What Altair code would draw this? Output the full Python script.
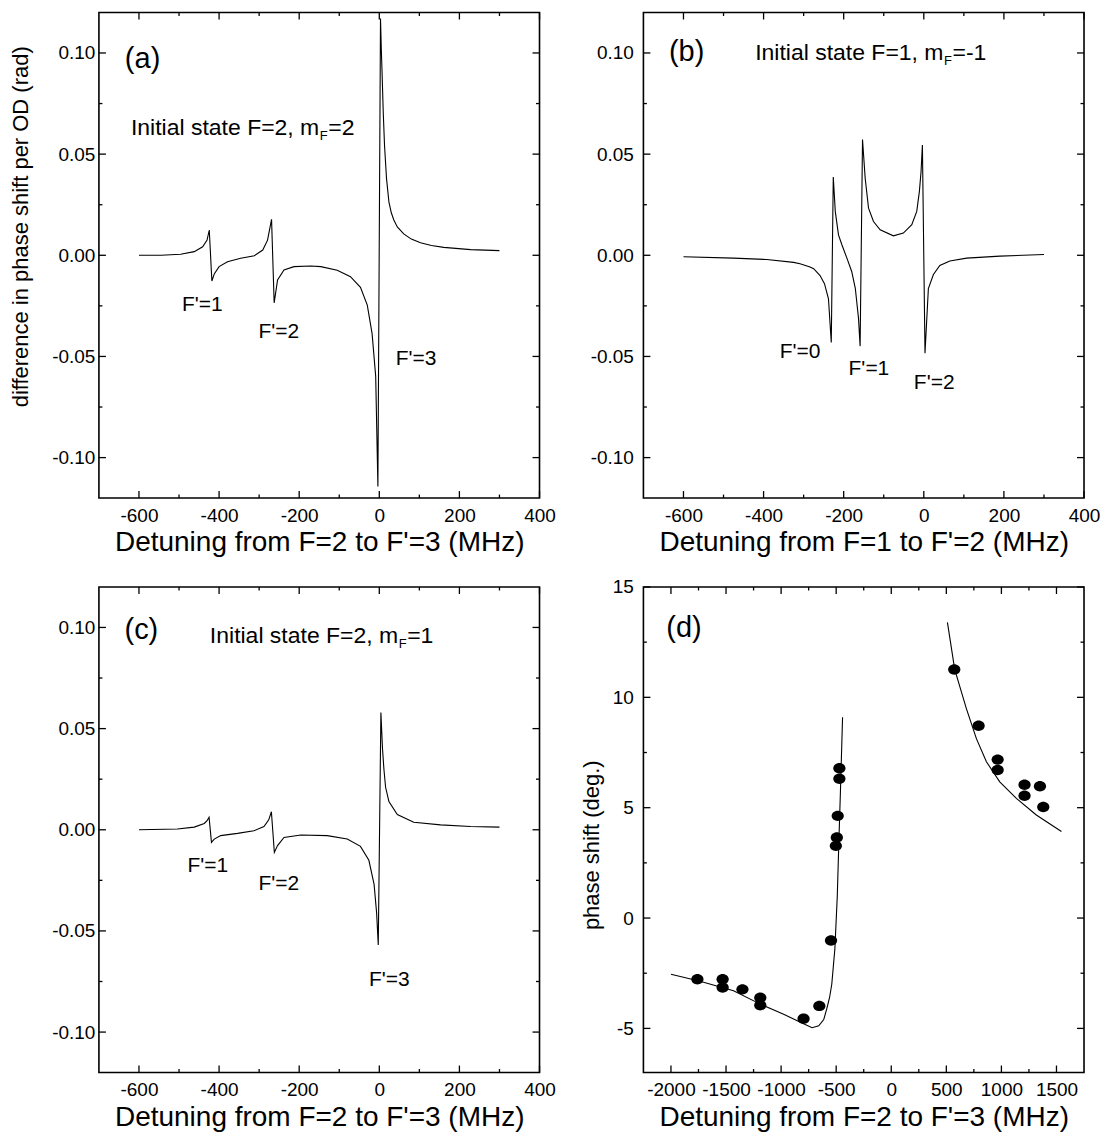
import altair as alt
import pandas as pd

FONT = "Liberation Sans"
W, H = 441, 486

# ---------------- data ----------------
# (a) initial state F=2, mF=2
a_x = [-600, -545, -496, -462, -441, -430, -424.5, -418, -412, -400,
       -379, -346, -312, -291, -279, -269, -262.5, -254, -238, -213,
       -171, -146, -105, -72, -47, -30, -18, -9, -3.5, 3,
       5, 7, 10, 13, 18, 24, 30, 36, 45, 61,
       80, 103, 130, 161, 228, 300]
a_y = [0.0, 0.0, 0.0005, 0.0018, 0.0042, 0.0075, 0.0125, -0.0127, -0.0092, -0.0056,
       -0.0032, -0.0015, -0.0002, 0.0026, 0.0075, 0.0178, -0.0235, -0.0122, -0.0073, -0.0056,
       -0.0053, -0.0056, -0.0074, -0.0106, -0.0158, -0.0246, -0.0387, -0.0598, -0.1143, 0.117,
       0.102, 0.0897, 0.070, 0.0545, 0.038, 0.0264, 0.021, 0.0176, 0.014, 0.0106,
       0.008, 0.0062, 0.0048, 0.0039, 0.0028, 0.0023]

# (b) initial state F=1, mF=-1
b_x = [-600, -475, -392, -325, -309, -284, -275, -259, -248, -238,
       -231, -226, -221, -213, -204.5, -192, -180, -171, -163, -159,
       -153, -146.4, -138, -125.6, -109, -76, -51, -30, -17.6, -11,
       -6.8, -3.5, 3, 11.4, 24, 40, 65, 107, 190, 300]
b_y = [-0.0007, -0.0014, -0.0021, -0.0035, -0.0042, -0.0058, -0.0066, -0.0100, -0.0140, -0.0215,
       -0.0431, 0.0387, 0.0217, 0.0101, 0.0052, -0.0014, -0.0080, -0.0163, -0.0312, -0.0449,
       0.0572, 0.0382, 0.0233, 0.0167, 0.0126, 0.0096, 0.0110, 0.0151, 0.0217, 0.0316,
       0.0415, 0.0545, -0.0484, -0.0165, -0.0095, -0.0050, -0.0028, -0.0014, -0.0004, 0.0004]

# (c) initial state F=2, mF=1
c_x = [-600, -504, -462, -437, -430, -425, -419, -412, -396, -354,
       -313, -288, -276, -269.4, -262, -254, -238, -196, -130, -80,
       -47, -26, -13, -6.7, -2.6, 4, 8, 11.5, 15.7, 24,
       45, 86, 153, 228, 300]
c_y = [0.0, 0.0004, 0.0013, 0.0031, 0.0045, 0.0062, -0.0062, -0.0046, -0.0029, -0.0018,
       -0.0005, 0.0016, 0.0049, 0.0089, -0.0112, -0.0078, -0.0038, -0.0026, -0.0029, -0.0046,
       -0.0082, -0.0151, -0.027, -0.041, -0.057, 0.058, 0.040, 0.030, 0.021, 0.014,
       0.0075, 0.0037, 0.0024, 0.0016, 0.0013]

# (d) measured phase shift and theory curve
d_left_x = [-2000, -1736, -1432, -1189, -977, -825, -719, -658, -613, -585,
            -560, -540, -512, -490, -476, -461, -442]
d_left_y = [-2.55, -2.86, -3.29, -3.9, -4.36, -4.72, -4.97, -4.88, -4.6, -4.1,
            -3.6, -3.0, -1.4, 1.0, 3.4, 5.8, 9.1]
d_right_x = [510, 576, 682, 773, 864, 985, 1136, 1317, 1545]
d_right_y = [13.4, 11.27, 9.49, 8.13, 7.08, 6.17, 5.42, 4.67, 3.92]
d_pts_x = [-1760, -1531, -1531, -1351, -1189, -1189, -796, -653, -547, -503,
           -494, -486, -471, -471, 572, 793, 966, 966, 1210, 1210, 1350, 1380]
d_pts_y = [-2.77, -2.77, -3.15, -3.23, -3.61, -3.95, -4.56, -3.98, -1.02, 3.27,
           3.65, 4.63, 6.31, 6.79, 11.26, 8.71, 7.18, 6.71, 6.04, 5.54, 5.97, 5.03]

# axis ticks / labels
abc_xlabels = [-600, -400, -200, 0, 200, 400]
abc_xminor = [-500, -300, -100, 100, 300]
abc_ylabels = [-0.10, -0.05, 0.0, 0.05, 0.10]
abc_yminor = [-0.075, -0.025, 0.025, 0.075]
d_xlabels = [-2000, -1500, -1000, -500, 0, 500, 1000, 1500]
d_xminor = [-1750, -1250, -750, -250, 250, 750, 1250]
d_ylabels = [-5, 0, 5, 10, 15]
d_yminor = [-2.5, 2.5, 7.5, 12.5]


def neg_expr(fmt):
    return ("datum.value < 0 ? '-' + format(-datum.value, '%s') : format(datum.value, '%s')"
            % (fmt, fmt))


def tick_layers(X, Y, xmaj, xmin, ymaj, ymin):
    out = []
    for vals, ln in ((xmaj, 7), (xmin, 3.5)):
        base = alt.Chart(pd.DataFrame({"x": vals})).mark_rule(color="black", strokeWidth=1.3)
        out.append(base.encode(x=X, y=alt.value(H), y2=alt.value(H - ln)))
        out.append(base.encode(x=X, y=alt.value(0), y2=alt.value(ln)))
    for vals, ln in ((ymaj, 7), (ymin, 3.5)):
        base = alt.Chart(pd.DataFrame({"y": vals})).mark_rule(color="black", strokeWidth=1.3)
        out.append(base.encode(y=Y, x=alt.value(0), x2=alt.value(ln)))
        out.append(base.encode(y=Y, x=alt.value(W), x2=alt.value(W - ln)))
    return out


def text_layer(X, Y, x, y, t, size, align="center", baseline="middle", dx=0, dy=0):
    return alt.Chart(pd.DataFrame({"x": x, "y": y, "t": t})).mark_text(
        font=FONT, fontSize=size, align=align, baseline=baseline, dx=dx, dy=dy, color="black"
    ).encode(x=X, y=Y, text="t:N")


def encodings(xdom, ydom, xlabels, ylabels, xfmt, yfmt, xtitle, xtitle_y, ylab_pad,
              ytitle=None, ytitle_x=0, ytitle_y=H / 2):
    xs = alt.Scale(domain=xdom, nice=False, zero=False)
    ys = alt.Scale(domain=ydom, nice=False, zero=False)
    xa = alt.Axis(values=xlabels, labelExpr=neg_expr(xfmt), ticks=False, domain=False, grid=False,
                  labelFont=FONT, labelFontSize=19, labelColor="black", labelPadding=8,
                  labelFlush=False, labelOverlap=False,
                  title=xtitle, titleFont=FONT, titleFontSize=28, titleFontWeight="normal",
                  titleColor="black", titleY=xtitle_y, titleBaseline="alphabetic")
    kw = dict(values=ylabels, labelExpr=neg_expr(yfmt), ticks=False, domain=False, grid=False,
              labelFont=FONT, labelFontSize=19, labelColor="black", labelPadding=ylab_pad,
              labelFlush=False, labelOverlap=False)
    if ytitle:
        kw.update(title=ytitle, titleFont=FONT, titleFontSize=22, titleFontWeight="normal",
                  titleColor="black", titleX=ytitle_x, titleY=ytitle_y, titleBaseline="middle",
                  titleAngle=270)
    else:
        kw.update(title=None)
    X = alt.X("x:Q", scale=xs, axis=xa)
    Y = alt.Y("y:Q", scale=ys, axis=alt.Axis(**kw))
    return X, Y


def spectrum_panel(x, y, letter, state_left, state_y, state_end, flabels, xtitle, xtitle_y,
                   ylab_pad, ytitle=None, ytitle_x=0, ytitle_y=H / 2):
    X, Y = encodings([-700, 400], [-0.12, 0.12], abc_xlabels, abc_ylabels, "d", ".2f",
                     xtitle, xtitle_y, ylab_pad, ytitle, ytitle_x, ytitle_y)
    line = alt.Chart(pd.DataFrame({"x": x, "y": y})).mark_line(
        color="black", strokeWidth=1.1).encode(x=X, y=Y)
    layers = [line] + tick_layers(X, Y, abc_xlabels, abc_xminor, abc_ylabels, abc_yminor)
    layers.append(text_layer(X, Y, [letter[0]], [letter[1]], [letter[2]], 29))
    layers.append(text_layer(X, Y, [state_left], [state_y], [state_end[0]], 23,
                             align="left", baseline="alphabetic"))
    layers.append(text_layer(X, Y, [state_left], [state_y], ["F"], 13,
                             align="left", baseline="alphabetic", dx=189, dy=5))
    layers.append(text_layer(X, Y, [state_left], [state_y], [state_end[1]], 23,
                             align="left", baseline="alphabetic", dx=197.5))
    layers.append(text_layer(X, Y, flabels[0], flabels[1], flabels[2], 21))
    return alt.layer(*layers).properties(width=W, height=H)


pa = spectrum_panel(
    a_x, a_y, (-591, 0.0968, "(a)"), -620, 0.0593, ("Initial state F=2, m", "=2"),
    ([-442, -251, 92], [-0.0246, -0.0378, -0.0515], ["F'=1", "F'=2", "F'=3"]),
    "Detuning from F=2 to F'=3 (MHz)", 52, 4,
    ytitle="difference in phase shift per OD (rad)", ytitle_x=-78, ytitle_y=214)

pb = spectrum_panel(
    b_x, b_y, (-592, 0.1003, "(b)"), -421, 0.0964, ("Initial state F=1, m", "=-1"),
    ([-309, -137, 26], [-0.0478, -0.0563, -0.0633], ["F'=0", "F'=1", "F'=2"]),
    "Detuning from F=1 to F'=2 (MHz)", 52, 10)

pc = spectrum_panel(
    c_x, c_y, (-594, 0.0987, "(c)"), -423, 0.0924, ("Initial state F=2, m", "=1"),
    ([-428, -251, 25], [-0.0179, -0.027, -0.0743], ["F'=1", "F'=2", "F'=3"]),
    "Detuning from F=2 to F'=3 (MHz)", 53, 4)

# panel (d)
DX, DY = encodings([-2250, 1750], [-7, 15], d_xlabels, d_ylabels, "d", "d",
                   "Detuning from F=2 to F'=3 (MHz)", 53, 10,
                   ytitle="phase shift (deg.)", ytitle_x=-52, ytitle_y=258)
d_left = alt.Chart(pd.DataFrame({"x": d_left_x, "y": d_left_y})).mark_line(
    color="black", strokeWidth=1.1).encode(x=DX, y=DY)
d_right = alt.Chart(pd.DataFrame({"x": d_right_x, "y": d_right_y})).mark_line(
    color="black", strokeWidth=1.1).encode(x=DX, y=DY)
ellipse = "M-1,0A1,0.85,0,1,0,1,0A1,0.85,0,1,0,-1,0Z"
d_pts = alt.Chart(pd.DataFrame({"x": d_pts_x, "y": d_pts_y})).mark_point(
    shape=ellipse, filled=True, color="black", opacity=1, size=150).encode(x=DX, y=DY)
pd_layers = [d_left, d_right, d_pts] + tick_layers(DX, DY, d_xlabels, d_xminor, d_ylabels, d_yminor)
pd_layers.append(text_layer(DX, DY, [-1882], [13.16], ["(d)"], 29))
pdd = alt.layer(*pd_layers).properties(width=W, height=H)

chart = alt.concat(
    pa, pb, pc, pdd, columns=2, spacing={"row": 89, "column": 104}, bounds="flush"
).properties(
    padding={"left": 1, "top": 2, "right": 0, "bottom": 0}
).configure_view(stroke="black", strokeWidth=1.6)

chart.save("out.html", embed_options={"renderer": "svg", "actions": False})
